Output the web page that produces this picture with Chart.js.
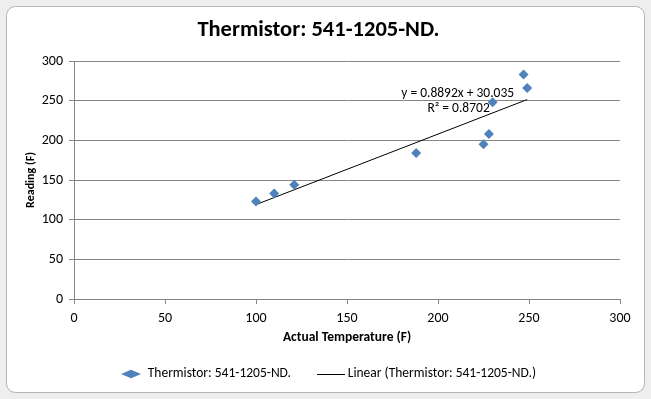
<!DOCTYPE html>
<html>
<head>
<meta charset="utf-8">
<script src="https://cdn.jsdelivr.net/npm/chart.js@4"></script>
<style>
  html, body { margin: 0; padding: 0; background: #fff; }
  #wrap { width: 651px; height: 399px; }
</style>
</head>
<body>
<div id="wrap"><canvas id="thermo"></canvas></div>
<script>
// readings
var tempX = [100, 110, 121, 188, 225, 228, 230, 247, 249];
var readingY = [123, 133, 144, 184, 195, 208, 248, 283, 266];
// trendline ends (x min / x max of the data)
var trendX = [100, 249];
var trendY = [119.0, 251.4];
var xTicks = [0, 50, 100, 150, 200, 250, 300];
var yTicks = [0, 50, 100, 150, 200, 250, 300];

var seriesName = 'Thermistor: 541-1205-ND.';
var trendName = 'Linear (Thermistor: 541-1205-ND.)';
var eqText = 'y = 0.8892x + 30.035';
var r2Text = 'R\u00b2 = 0.8702';

var FONT = 'Carlito, Calibri, Lato, sans-serif';

// legend symbol for the trendline
function lineImg() {
    var c = document.createElement('canvas');
    c.width = 28; c.height = 1;
    var g = c.getContext('2d');
    g.fillStyle = '#000';
    g.fillRect(0, 0, 28, 1);
    return c;
}

var points = tempX.map(function (x, i) { return {x: x, y: readingY[i]}; });
var trend = trendX.map(function (x, i) { return {x: x, y: trendY[i]}; });

var frame = {
    id: 'frame',
    beforeDraw: function (chart) {
        var c = chart.ctx;
        c.save();
        c.fillStyle = '#eeeeee';
        c.fillRect(0, 0, chart.width, chart.height);
        c.beginPath();
        c.roundRect(6.5, 6.5, 638, 386, 9);
        c.fillStyle = '#fff';
        c.fill();
        c.strokeStyle = '#b5b5b5';
        c.lineWidth = 1;
        c.stroke();
        c.restore();
    }
};

// excel centres the legend a bit to the right of the plot centre
var nudgeLegend = {
    id: 'nudgeLegend',
    afterLayout: function (chart) {
        chart.legend.left += 10;
        chart.legend.right += 10;
    }
};

var trendLabel = {
    id: 'trendLabel',
    afterDatasetsDraw: function (chart) {
        var c = chart.ctx, xs = chart.scales.x, ys = chart.scales.y;
        c.save();
        c.font = '13.5px ' + FONT;
        c.fillStyle = '#000';
        c.textBaseline = 'middle';
        c.textAlign = 'right';
        c.fillText(eqText, xs.getPixelForValue(241.8), ys.getPixelForValue(259.3));
        c.textAlign = 'center';
        c.fillText(r2Text, xs.getPixelForValue(211.3), ys.getPixelForValue(239.9));
        c.restore();
    }
};

var ctx = document.getElementById('thermo').getContext('2d');
var chart = new Chart(ctx, {
    type: 'scatter',
    data: {
        datasets: [{
            label: seriesName,
            data: points,
            pointStyle: 'rectRot',
            pointRadius: 5,
            pointHoverRadius: 5,
            backgroundColor: '#4f81bd',
            borderColor: '#4f81bd',
            borderWidth: 0
        }, {
            type: 'line',
            label: trendName,
            data: trend,
            borderColor: '#000',
            borderWidth: 1,
            pointRadius: 0,
            pointStyle: lineImg(),
            fill: false
        }]
    },
    options: {
        responsive: true,
        maintainAspectRatio: false,
        animation: false,
        layout: { padding: { left: 17, right: 31, top: 0, bottom: 8.25 } },
        plugins: {
            title: {
                display: true,
                text: 'Thermistor: 541-1205-ND.',
                color: '#000',
                font: { family: FONT, size: 22.5, weight: 'bold' },
                padding: { top: 17, bottom: 17 }
            },
            legend: {
                position: 'bottom',
                labels: {
                    usePointStyle: true,
                    pointStyleWidth: 20,
                    boxHeight: 6,
                    color: '#000',
                    padding: 30,
                    font: { family: FONT, size: 13.5 }
                }
            },
            tooltip: { enabled: false }
        },
        scales: {
            x: {
                type: 'linear',
                min: 0, max: 300,
                afterBuildTicks: function (s) { s.ticks = xTicks.map(function (v) { return {value: v}; }); },
                afterFit: function (s) { s.height = 38.25; },
                grid: { drawOnChartArea: false, drawTicks: true, tickLength: 5, color: '#868686' },
                border: { color: '#868686' },
                ticks: { color: '#000', padding: 6, font: { family: FONT, size: 14 } },
                title: {
                    display: true, text: 'Actual Temperature (F)', color: '#000',
                    font: { family: FONT, size: 13.5, weight: 'bold' }, padding: { top: 0, bottom: -8.85 }
                }
            },
            y: {
                type: 'linear',
                min: 0, max: 300,
                afterBuildTicks: function (s) { s.ticks = yTicks.map(function (v) { return {value: v}; }); },
                afterFit: function (s) { s.width = 57; },
                grid: { color: '#868686', tickLength: 5 },
                border: { color: '#868686' },
                ticks: { color: '#000', padding: 6, font: { family: FONT, size: 14 } },
                title: {
                    display: true, text: 'Reading (F)', color: '#000',
                    font: { family: FONT, size: 12, weight: 'bold' }, padding: { top: 7, bottom: 0 }
                }
            }
        }
    },
    plugins: [frame, nudgeLegend, trendLabel]
});
</script>
</body>
</html>
